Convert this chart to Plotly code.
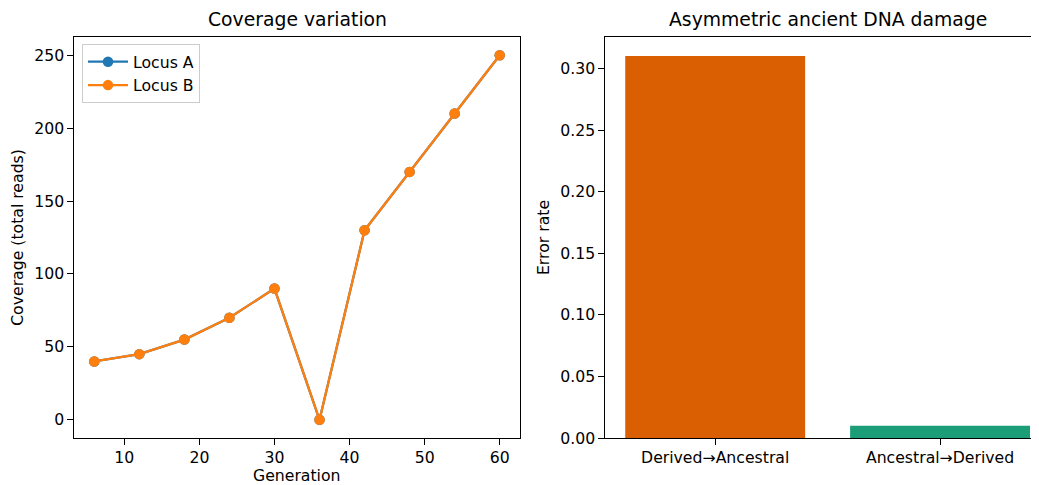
import plotly.graph_objects as go

generation = [6, 12, 18, 24, 30, 36, 42, 48, 54, 60]
locus_a = [40, 45, 55, 70, 90, 0, 130, 170, 210, 250]
locus_b = [40, 45, 55, 70, 90, 0, 130, 170, 210, 250]
damage_categories = ["Derived→Ancestral", "Ancestral→Derived"]
damage_rates = [0.31, 0.01]
bar_colors = ["#d95f02", "#1b9e77"]

# page body has an 8px margin; figure sized to fill the rest of the window
OFF = 8
W, H = 1039 - OFF, 485 - OFF
FONT = "DejaVu Sans"
TICK = 15.7
TITLE = 18.8

def px(x):
    return (x - OFF) / W

def py(y):
    return (485 - y) / H

fig = go.Figure()
fig.add_trace(go.Scatter(x=generation, y=locus_a, mode="lines+markers", name="Locus A",
                         line=dict(color="#1f77b4", width=2.3), marker=dict(size=10.5, color="#1f77b4"),
                         xaxis="x", yaxis="y"))
fig.add_trace(go.Scatter(x=generation, y=locus_b, mode="lines+markers", name="Locus B",
                         line=dict(color="#ff7f0e", width=2.3), marker=dict(size=10.5, color="#ff7f0e"),
                         xaxis="x", yaxis="y"))
fig.add_trace(go.Bar(x=list(range(len(damage_categories))), y=damage_rates, width=0.8,
                     marker=dict(color=bar_colors, line=dict(width=0)), showlegend=False,
                     xaxis="x2", yaxis="y2"))

axis_common = dict(showgrid=False, zeroline=False, showline=True, linecolor="black", linewidth=1.1,
                   ticks="outside", ticklen=5.5, tickwidth=1.1, tickcolor="black", automargin=False,
                   tickfont=dict(family=FONT, size=TICK, color="black"))

gmin, gmax = min(generation), max(generation)
gpad = (gmax - gmin) * 0.05
vmin, vmax = min(locus_a + locus_b), max(locus_a + locus_b)
vpad = (vmax - vmin) * 0.05

fig.update_layout(
    width=W, height=H,
    margin=dict(l=0, r=0, t=0, b=0, autoexpand=False),
    paper_bgcolor="white", plot_bgcolor="white",
    font=dict(family=FONT, size=TICK, color="black"),
    xaxis=dict(domain=[px(74), px(520)], anchor="y", range=[gmin - gpad, gmax + gpad],
               tickvals=[10, 20, 30, 40, 50, 60], mirror=True, **axis_common),
    yaxis=dict(domain=[py(438), py(37)], anchor="x", range=[vmin - vpad, vmax + vpad],
               tickvals=[0, 50, 100, 150, 200, 250], mirror=True,
               title=dict(text="Coverage (total reads)", font=dict(family=FONT, size=TICK), standoff=6), **axis_common),
    xaxis2=dict(domain=[px(605), 1.0], anchor="y2", range=[-0.49, 1.44],
                tickvals=list(range(len(damage_categories))), ticktext=damage_categories, mirror=True,
                **axis_common),
    yaxis2=dict(domain=[py(438), py(37)], anchor="x2", range=[0, max(damage_rates) * 1.05],
                tickvals=[0, 0.05, 0.10, 0.15, 0.20, 0.25, 0.30], tickformat=".2f",
                title=dict(text="Error rate", font=dict(family=FONT, size=TICK), standoff=6), **axis_common),
    legend=dict(x=px(82), y=py(44), xanchor="left", yanchor="top",
                bgcolor="rgba(255,255,255,0.8)", bordercolor="#cccccc", borderwidth=1,
                font=dict(family=FONT, size=TICK), tracegroupgap=0, itemwidth=40),
    annotations=[
        dict(text="Coverage variation", x=px(297), y=py(20), xref="paper", yref="paper",
             showarrow=False, font=dict(family=FONT, size=TITLE), xanchor="center", yanchor="middle"),
        dict(text="Asymmetric ancient DNA damage", x=px(828), y=py(20), xref="paper", yref="paper",
             showarrow=False, font=dict(family=FONT, size=TITLE), xanchor="center", yanchor="middle"),
        dict(text="Generation", x=px(297), y=py(475), xref="paper", yref="paper", borderpad=0,
             showarrow=False, font=dict(family=FONT, size=TICK), xanchor="center", yanchor="middle"),
    ],
    showlegend=True,
)

fig.write_html("out.html")
